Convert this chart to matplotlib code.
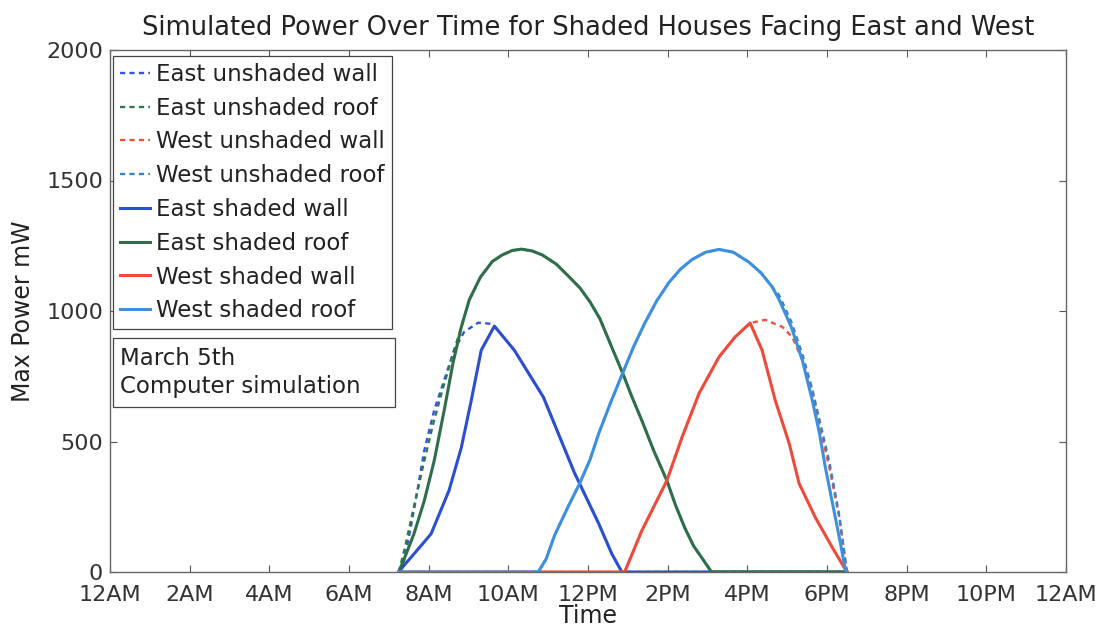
import matplotlib
matplotlib.use("Agg")
import matplotlib.pyplot as plt
from matplotlib.patches import Rectangle

plt.rcParams["font.family"] = ["DejaVu Sans"]

# hours of the day and simulated max power (mW)
east_wall_hours = [7.25, 7.38, 7.63, 8.06, 8.51, 8.82, 9.07, 9.32, 9.65, 10.15, 10.88,
                   11.66, 12.27, 12.6, 12.85, 18.5]
east_wall_power = [0, 25, 69, 146, 312, 477, 658, 850, 942, 850, 670,
                   380, 185, 69, 0, 0]

east_wall_unshaded_hours = [7.25, 7.38, 7.55, 7.73, 7.89, 8.14, 8.39, 8.64, 8.89, 9.24,
                            9.57, 9.65, 10.15, 10.88, 11.66, 12.27, 12.6, 12.85, 18.5]
east_wall_unshaded_power = [0, 42, 170, 323, 466, 620, 735, 851, 920, 955,
                            951, 942, 850, 670, 380, 185, 69, 0, 0]

east_roof_hours = [7.25, 7.45, 7.63, 7.89, 8.14, 8.39, 8.61, 8.82, 9.02, 9.3, 9.6, 9.85,
                   10.1, 10.33, 10.6, 10.85, 11.2, 11.5, 11.8, 12.05, 12.3, 12.6, 12.87,
                   13.1, 13.35, 13.65, 13.98, 14.2, 14.43, 14.65, 14.86, 15.1, 18.5]
east_roof_power = [0, 75, 146, 273, 427, 620, 800, 939, 1043, 1130, 1190, 1215,
                   1232, 1237, 1230, 1215, 1180, 1135, 1088, 1035, 970, 860, 762,
                   672, 581, 465, 350, 255, 169, 100, 54, 0, 0]

east_roof_unshaded_hours = [7.25, 7.4, 7.6, 7.85, 8.1, 8.35, 8.6, 8.82, 9.02, 9.3, 9.6,
                            9.85, 10.1, 10.33, 10.6, 10.85, 11.2, 11.5, 11.8, 12.05, 12.3,
                            12.6, 12.87, 13.1, 13.35, 13.65, 13.98, 14.2, 14.43, 14.65,
                            14.86, 15.1, 18.5]
east_roof_unshaded_power = [0, 90, 230, 400, 560, 700, 830, 939, 1043, 1130, 1190,
                            1215, 1232, 1237, 1230, 1215, 1180, 1135, 1088, 1035, 970,
                            860, 762, 672, 581, 465, 350, 255, 169, 100, 54, 0, 0]

west_wall_hours = [7.25, 12.92, 13.35, 13.98, 14.36, 14.79, 15.29, 15.69, 16.07, 16.37,
                   16.7, 17.05, 17.3, 17.71, 18.14, 18.5]
west_wall_power = [0, 0, 158, 350, 516, 685, 824, 900, 954, 850,
                   658, 493, 339, 208, 92, 0]

west_wall_unshaded_hours = [7.25, 12.92, 13.35, 13.98, 14.36, 14.79, 15.29, 15.69, 16.07,
                            16.45, 16.88, 17.13, 17.38, 17.63, 17.8, 18.06, 18.31, 18.5]
west_wall_unshaded_power = [0, 0, 158, 350, 516, 685, 824, 900, 954,
                            966, 939, 900, 812, 697, 570, 400, 208, 0]

west_roof_hours = [7.25, 10.75, 10.95, 11.16, 11.5, 11.79, 12.05, 12.27, 12.57, 12.87,
                   13.15, 13.43, 13.73, 14.03, 14.32, 14.61, 14.95, 15.29, 15.65, 16.05,
                   16.35, 16.62, 16.8, 17.1, 17.38, 17.63, 17.8, 17.96, 18.21, 18.35,
                   18.46, 18.5]
west_roof_power = [0, 0, 50, 140, 250, 339, 430, 531, 650, 762,
                   865, 955, 1040, 1109, 1160, 1197, 1225, 1236, 1225, 1186,
                   1145, 1093, 1043, 940, 812, 658, 540, 400, 208, 100,
                   10, 0]

west_roof_unshaded_hours = [7.25, 10.75, 10.95, 11.16, 11.5, 11.79, 12.05, 12.27, 12.57,
                            12.87, 13.15, 13.43, 13.73, 14.03, 14.32, 14.61, 14.95, 15.29,
                            15.65, 16.05, 16.35, 16.62, 16.8, 17.1, 17.38, 17.63, 17.8,
                            18.06, 18.31, 18.5]
west_roof_unshaded_power = [0, 0, 50, 140, 250, 339, 430, 531, 650,
                            762, 865, 955, 1040, 1109, 1160, 1197, 1225, 1236,
                            1225, 1186, 1145, 1093, 1060, 960, 835, 700, 590,
                            420, 215, 0]

tick_hours = list(range(0, 25, 2))
tick_labels = ["12AM", "2AM", "4AM", "6AM", "8AM", "10AM", "12PM",
               "2PM", "4PM", "6PM", "8PM", "10PM", "12AM"]

c_east_wall = "#2b4fd0"
c_east_roof = "#2e6e4a"
c_west_wall = "#f04a3a"
c_west_roof = "#3d8fe0"

fig = plt.figure(figsize=(11.04, 6.36), dpi=100)
ax = fig.add_axes([110 / 1104, 1 - 572 / 636, 956 / 1104, 522 / 636])

dash = dict(lw=1.7, ls=(0, (2.2, 1.8)))
solid = dict(lw=2.2)
ax.plot(east_wall_unshaded_hours, east_wall_unshaded_power, color="#3355dd",
        label="East unshaded wall", **dash)
ax.plot(east_roof_unshaded_hours, east_roof_unshaded_power, color="#2e7a50",
        label="East unshaded roof", **dash)
ax.plot(west_wall_unshaded_hours, west_wall_unshaded_power, color="#f05040",
        label="West unshaded wall", **dash)
ax.plot(west_roof_unshaded_hours, west_roof_unshaded_power, color="#3a80c8",
        label="West unshaded roof", **dash)
ax.plot(east_wall_hours, east_wall_power, color=c_east_wall,
        label="East shaded wall", **solid)
ax.plot(east_roof_hours, east_roof_power, color=c_east_roof,
        label="East shaded roof", **solid)
ax.plot(west_wall_hours, west_wall_power, color=c_west_wall,
        label="West shaded wall", **solid)
ax.plot(west_roof_hours, west_roof_power, color=c_west_roof,
        label="West shaded roof", **solid)

ax.set_xlim(0, 24)
ax.set_ylim(0, 2000)
ax.set_xticks(tick_hours)
ax.set_xticklabels(tick_labels)
ax.set_yticks([0, 500, 1000, 1500, 2000])
ax.tick_params(direction="in", top=True, right=True, length=5, width=0.8,
               labelsize=16, colors="#555555", labelcolor="#333333")
ax.tick_params(axis="x", pad=9.5)
ax.tick_params(axis="y", pad=5)
for sp in ax.spines.values():
    sp.set_color("#666666")
    sp.set_linewidth(1.0)

ax.set_title("Simulated Power Over Time for Shaded Houses Facing East and West",
             fontsize=18.5, color="#222222", pad=11)
ax.set_xlabel("Time", fontsize=17, color="#222222", labelpad=-1)
ax.set_ylabel("Max Power mW", fontsize=17, color="#222222", labelpad=8)

leg = ax.legend(loc="upper left", bbox_to_anchor=(0.003, 0.9885), borderaxespad=0,
                fontsize=16.5, handlelength=1.3, handletextpad=0.3,
                labelspacing=0.47, borderpad=0.3, fancybox=False, framealpha=1,
                edgecolor="#444444")
leg.get_frame().set_linewidth(0.9)
for t in leg.get_texts():
    t.set_color("#222222")

ax.add_patch(Rectangle((0.003, 0.316), 0.295, 0.132, transform=ax.transAxes,
                       fill=False, edgecolor="#444444", lw=0.9, zorder=5))
ax.text(0.0105, 0.382, "March 5th\nComputer simulation", transform=ax.transAxes,
        fontsize=16.5, color="#222222", va="center", ha="left", linespacing=1.3)

fig.savefig("out.png", dpi=100)
